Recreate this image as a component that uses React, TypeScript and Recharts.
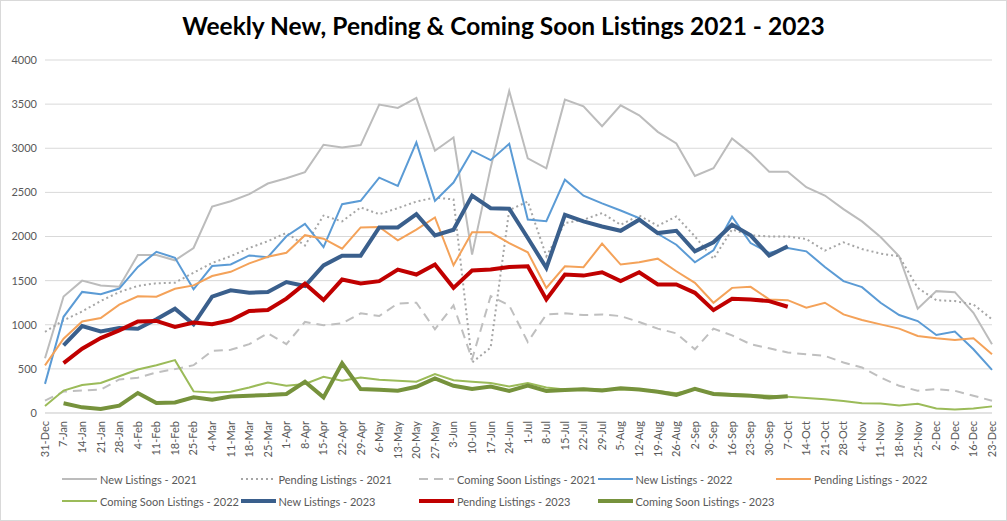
import React from 'react'
import { LineChart, Line, XAxis, YAxis, CartesianGrid, Legend } from 'recharts'

const weeks = [
  '31-Dec', '7-Jan', '14-Jan', '21-Jan', '28-Jan', '4-Feb', '11-Feb', '18-Feb', '25-Feb', '4-Mar',
  '11-Mar', '18-Mar', '25-Mar', '1-Apr', '8-Apr', '15-Apr', '22-Apr', '29-Apr', '6-May', '13-May',
  '20-May', '27-May', '3-Jun', '10-Jun', '17-Jun', '24-Jun', '1-Jul', '8-Jul', '15-Jul', '22-Jul',
  '29-Jul', '5-Aug', '12-Aug', '19-Aug', '26-Aug', '2-Sep', '9-Sep', '16-Sep', '23-Sep', '30-Sep',
  '7-Oct', '14-Oct', '21-Oct', '28-Oct', '4-Nov', '11-Nov', '18-Nov', '25-Nov', '2-Dec', '9-Dec',
  '16-Dec', '23-Dec',
]

const yTicks = [0, 500, 1000, 1500, 2000, 2500, 3000, 3500, 4000]

const new2021 = [
  620, 1320, 1500, 1445, 1430, 1790, 1790, 1730, 1870, 2340, 2400, 2480, 2600, 2660, 2730, 3040,
  3010, 3036, 3495, 3457, 3570, 2972, 3122, 1795, 2780, 3649, 2885, 2773, 3551, 3476, 3250, 3487,
  3374, 3186, 3055, 2686, 2773, 3111, 2942, 2735, 2735, 2558, 2464, 2310, 2171, 1994, 1776, 1181,
  1381, 1369, 1136, 779,
]
const pending2021 = [
  920, 1050, 1150, 1270, 1370, 1440, 1470, 1476, 1590, 1700, 1777, 1870, 1947, 2041, 1898, 2237,
  2171, 2329, 2253, 2321, 2396, 2441, 2420, 572, 741, 2300, 2396, 1776, 2152, 2190, 2265, 2133,
  2238, 2122, 2227, 2001, 1746, 2080, 2013, 2001, 2001, 1971, 1840, 1934, 1858, 1806, 1776, 1418,
  1279, 1268, 1230, 1061,
]
const soon2021 = [
  140, 243, 254, 265, 380, 400, 459, 497, 542, 704, 716, 780, 904, 780, 1032, 994,
  1016, 1129, 1099, 1241, 1249, 948, 1219, 609, 1324, 1219, 805, 1117, 1129, 1110, 1117, 1098,
  1031, 956, 903, 722, 956, 880, 779, 734, 685, 666, 647, 572, 515, 403, 308, 252,
  271, 252, 196, 139,
]
const new2022 = [
  330, 1090, 1372, 1345, 1410, 1656, 1827, 1759, 1401, 1665, 1683, 1785, 1766, 2003, 2143, 1879,
  2366, 2404, 2667, 2573, 3066, 2404, 2611, 2972, 2865, 3050, 2192, 2173, 2644, 2463, 2375, 2295,
  2208, 2031, 1907, 1708, 1843, 2225, 1926, 1813, 1870, 1832, 1655, 1494, 1426, 1249, 1110, 1042,
  884, 922, 722, 489,
]
const pending2022 = [
  540, 841, 1038, 1076, 1228, 1323, 1318, 1408, 1446, 1552, 1600, 1695, 1770, 1815, 2015, 1975,
  1862, 2103, 2107, 1956, 2077, 2216, 1674, 2047, 2047, 1926, 1821, 1418, 1663, 1652, 1919, 1682,
  1708, 1749, 1606, 1475, 1249, 1418, 1430, 1287, 1279, 1193, 1249, 1117, 1053, 1004, 956, 873,
  846, 828, 846, 666,
]
const soon2022 = [
  80, 254, 318, 341, 417, 493, 542, 599, 245, 233, 241, 290, 346, 309, 328, 410,
  365, 402, 376, 365, 354, 440, 372, 354, 339, 300, 340, 290, 265, 275, 265, 270,
  265, 250, 225, 265, 225, 215, 205, 195, 185, 170, 155, 135, 110, 108, 85, 105,
  50, 40, 50, 75,
]
const new2023 = [
  null, 765, 985, 925, 963, 955, 1062, 1182, 1005, 1318, 1390, 1363, 1371, 1484, 1439, 1672,
  1783, 1783, 2103, 2103, 2253, 2013, 2077, 2464, 2321, 2314, 1983, 1644, 2246, 2171, 2114, 2065,
  2190, 2039, 2065, 1832, 1934, 2133, 2013, 1783, 1889,
]
const pending2023 = [
  null, 565, 728, 849, 936, 1038, 1043, 975, 1024, 1005, 1051, 1156, 1167, 1296, 1465, 1280,
  1512, 1467, 1494, 1625, 1569, 1682, 1418, 1614, 1625, 1655, 1663, 1287, 1569, 1557, 1595, 1494,
  1595, 1456, 1456, 1362, 1166, 1294, 1287, 1268, 1204,
]
const soon2023 = [
  null, 110, 64, 45, 83, 227, 113, 120, 177, 150, 188, 196, 203, 215, 354, 177,
  564, 271, 263, 252, 297, 391, 308, 271, 301, 250, 310, 250, 260, 270, 255, 280,
  265, 240, 205, 275, 215, 205, 195, 175, 190,
]

const series = [
  { key: 'new2021', name: 'New Listings - 2021', values: new2021, color: '#bcbcbc', width: 2, dash: undefined },
  { key: 'pending2021', name: 'Pending Listings - 2021', values: pending2021, color: '#a6a6a6', width: 2, dash: '2 3' },
  { key: 'soon2021', name: 'Coming Soon Listings - 2021', values: soon2021, color: '#bfbfbf', width: 2, dash: '9 6' },
  { key: 'new2022', name: 'New Listings - 2022', values: new2022, color: '#5b9bd5', width: 2, dash: undefined },
  { key: 'pending2022', name: 'Pending Listings - 2022', values: pending2022, color: '#f4a259', width: 2, dash: undefined },
  { key: 'soon2022', name: 'Coming Soon Listings - 2022', values: soon2022, color: '#9bbb59', width: 2, dash: undefined },
  { key: 'new2023', name: 'New Listings - 2023', values: new2023, color: '#3a5f8c', width: 4, dash: undefined },
  { key: 'pending2023', name: 'Pending Listings - 2023', values: pending2023, color: '#c00000', width: 4, dash: undefined },
  { key: 'soon2023', name: 'Coming Soon Listings - 2023', values: soon2023, color: '#76923c', width: 4, dash: undefined },
]

const data = weeks.map((week, i) => {
  const row: Record<string, string | number | null> = { week }
  series.forEach((s) => {
    const v = s.values[i]
    row[s.key] = v === undefined ? null : v
  })
  return row
})

const FONT = 'Lato, "Open Sans", sans-serif'

function WeekTick({ x, y, payload }: any) {
  return (
    <g transform={`translate(${x},${y})`}>
      <text transform="rotate(-90)" textAnchor="end" dy="0.35em" fill="#595959" fontSize={11} fontFamily={FONT}>
        {payload.value}
      </text>
    </g>
  )
}

function ListingsLegend() {
  return (
    <div
      style={{
        height: 57,
        paddingTop: 5,
        boxSizing: 'border-box',
        display: 'grid',
        gridTemplateColumns: 'repeat(5, 178.5px)',
        gridAutoRows: '22px',
        marginLeft: 61,
        fontFamily: FONT,
        fontSize: 11,
        color: '#595959',
      }}
    >
      {series.map((s) => (
        <div key={s.key} style={{ display: 'flex', alignItems: 'center', whiteSpace: 'nowrap' }}>
          <svg width={35} height={8} style={{ marginRight: 3 }}>
            <line x1={0} y1={4} x2={35} y2={4} stroke={s.color} strokeWidth={s.width} strokeDasharray={s.dash} />
          </svg>
          <span>{s.name}</span>
        </div>
      ))}
    </div>
  )
}

export default function App() {
  return (
    <div style={{ position: 'relative', width: 1005, height: 519, border: '1px solid #d9d9d9', background: '#fff' }}>
      <style>{'body{margin:0}'}</style>
      <div
        style={{
          position: 'absolute',
          top: 10,
          left: 0,
          width: 1005,
          textAlign: 'center',
          fontFamily: FONT,
          fontWeight: 700,
          fontSize: 24.5,
          color: '#000',
        }}
      >
        Weekly New, Pending &amp; Coming Soon Listings 2021 - 2023
      </div>
      <LineChart width={1005} height={519} data={data} margin={{ top: 59, right: 14, left: 0, bottom: 0 }}>
        <CartesianGrid vertical={false} stroke="#d9d9d9" />
        <XAxis
          dataKey="week"
          interval={0}
          height={50}
          tick={<WeekTick />}
          tickLine={false}
          axisLine={{ stroke: '#d9d9d9' }}
        />
        <YAxis
          width={44}
          domain={[0, 4000]}
          ticks={yTicks}
          axisLine={false}
          tickLine={false}
          tick={{ fill: '#595959', fontSize: 11, fontFamily: FONT }}
        />
        <Legend verticalAlign="bottom" content={<ListingsLegend />} />
        {series.map((s) => (
          <Line
            key={s.key}
            type="linear"
            dataKey={s.key}
            name={s.name}
            stroke={s.color}
            strokeWidth={s.width}
            strokeDasharray={s.dash}
            dot={false}
            activeDot={false}
            isAnimationActive={false}
          />
        ))}
      </LineChart>
    </div>
  )
}
